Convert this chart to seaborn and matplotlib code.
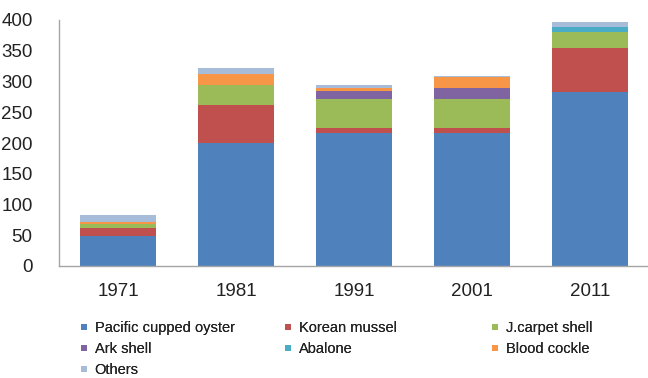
import numpy as np
import pandas as pd
import matplotlib
matplotlib.use("Agg")
import matplotlib.pyplot as plt
from matplotlib.lines import Line2D
import seaborn as sns

# Shellfish production by species (thousand tonnes)
years = ["1971", "1981", "1991", "2001", "2011"]
pacific_oyster = [48, 200, 216, 216, 283]
korean_mussel = [14, 62, 9, 8, 71]
carpet_shell = [7, 32, 46, 47, 27]
ark_shell = [0, 0, 13, 18, 0]
abalone = [0, 0, 0, 0, 8]
blood_cockle = [3, 19, 6, 19, 0]
others = [11, 9, 4, 1, 7]

species = ["Pacific cupped oyster", "Korean mussel", "J.carpet shell",
           "Ark shell", "Abalone", "Blood cockle", "Others"]
series = [pacific_oyster, korean_mussel, carpet_shell, ark_shell,
          abalone, blood_cockle, others]
colors = ["#4F81BD", "#C0504D", "#9BBB59", "#8064A2", "#4BACC6",
          "#F79646", "#A7BCD8"]

sns.set_theme(style="white")
plt.rcParams["font.family"] = ["Liberation Sans", "DejaVu Sans"]

fig = plt.figure(figsize=(6.48, 3.78), dpi=100)
ax = fig.add_axes([59 / 648, 1 - 266 / 378, 590 / 648, 246 / 378])

# Stacked bars: draw cumulative totals from the top layer down
cum = np.cumsum(np.array(series, dtype=float), axis=0)
for i in range(len(series) - 1, -1, -1):
    df = pd.DataFrame({"year": years, "value": cum[i]})
    sns.barplot(data=df, x="year", y="value", color=colors[i],
                saturation=1, width=0.64, ax=ax, linewidth=0)

ax.set_xlim(-0.5, 4.5)
ax.set_ylim(0, 400)
ax.set_yticks(np.arange(0, 401, 50))
ax.set_xlabel("")
ax.set_ylabel("")
ax.tick_params(axis="y", length=0, pad=19, labelsize=13.5, colors="#222222")
ax.tick_params(axis="x", length=0, pad=12, labelsize=13.5, colors="#222222")
for s in ["top", "right"]:
    ax.spines[s].set_visible(False)
for s in ["left", "bottom"]:
    ax.spines[s].set_color("#A6A6A6")
    ax.spines[s].set_linewidth(1.0)

# Legend laid out in three columns
handles = [Line2D([], [], marker="s", linestyle="none", markersize=4,
                  markerfacecolor=c, markeredgewidth=0) for c in colors]
columns = [[0, 3, 6], [1, 4], [2, 5]]
lefts = [80 / 648, 284 / 648, 491 / 648]
for col, left in zip(columns, lefts):
    leg = fig.legend([handles[k] for k in col], [species[k] for k in col],
                     loc="upper left", bbox_to_anchor=(left, 1 - 321 / 378),
                     frameon=False, fontsize=10.5, handlelength=0.6,
                     handletextpad=0.4, borderpad=0, borderaxespad=0,
                     labelspacing=0.48, labelcolor="#222222")
    fig.add_artist(leg)

fig.savefig("out.png", dpi=100)
